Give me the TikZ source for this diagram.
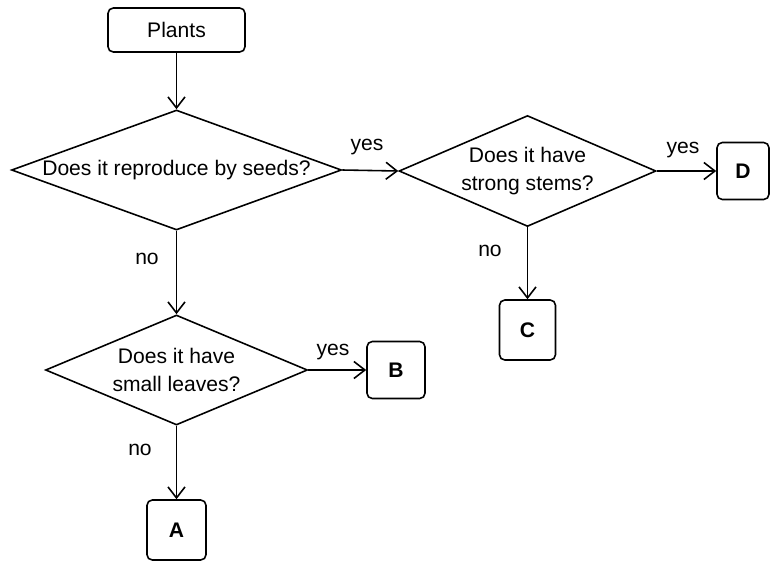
\documentclass[tikz,border=0pt]{standalone}
\usepackage{fontspec}
\setmainfont{Liberation Sans}
\usetikzlibrary{shapes.geometric,arrows.meta}
\tikzset{
  startbox/.style={draw, rounded corners=3pt, line width=0.9pt, font=\fontsize{12}{14}\selectfont},
  leafbox/.style={draw, rounded corners=3pt, line width=0.9pt, font=\bfseries\fontsize{12}{14}\selectfont},
  query/.style={draw, diamond, inner sep=0pt, line width=0.9pt, align=center, font=\fontsize{12}{16}\selectfont},
  answer/.style={font=\fontsize{12}{14}\selectfont},
  link/.style={line width=0.9pt, -{Straight Barb[length=2.2mm,width=3.4mm]}}
}

\begin{document}
\begin{tikzpicture}
			%%%%% START %%%%%
			\useasboundingbox (0, 0) rectangle (15.4, -11.22);
			
			\node[startbox, minimum width=2.74cm, minimum height=0.88cm] (plants) at (3.53, -0.6) {Plants};
			
			\node[query, shape aspect=2.75, inner xsep=-2pt, minimum width=6.6cm, minimum height=2.4cm] (seeds) at (3.53, -3.4) {Does it reproduce by seeds?};
			\node[query, shape aspect=2.32, minimum width=5.14cm, minimum height=2.22cm] (stems) at (10.55, -3.42) {Does it have\\strong stems?};
			\node[query, shape aspect=2.38, minimum width=5.24cm, minimum height=2.2cm] (leaves) at (3.53, -7.4) {Does it have\\small leaves?};
			
			\node[leafbox, minimum width=1.04cm, minimum height=1.14cm] (d) at (14.86, -3.42) {D};
			\node[leafbox, minimum width=1.12cm, minimum height=1.2cm] (c) at (10.55, -6.6) {C};
			\node[leafbox, minimum width=1.16cm, minimum height=1.14cm] (b) at (7.92, -7.4) {B};
			\node[leafbox, minimum width=1.18cm, minimum height=1.2cm] (a) at (3.53, -10.6) {A};
			
			\draw[link] (plants) -- (seeds.north);
			\draw[link] (seeds.east) -- (stems.west);
			\draw[link] (stems.east) -- (d.west);
			\draw[link] (stems.south) -- (c.north);
			\draw[link] (seeds.south) -- (leaves.north);
			\draw[link] (leaves.east) -- (b.west);
			\draw[link] (leaves.south) -- (a.north);
			
			\node[answer] (yes1) at (7.34, -2.94) {yes};
			\node[answer] (yes2) at (13.66, -3.0) {yes};
			\node[answer] (yes3) at (6.66, -7.04) {yes};
			\node[answer] (no1) at (2.94, -5.18) {no};
			\node[answer] (no2) at (9.8, -5.02) {no};
			\node[answer] (no3) at (2.8, -9.0) {no};
			%%%%% END %%%%%
\end{tikzpicture}
\end{document}
